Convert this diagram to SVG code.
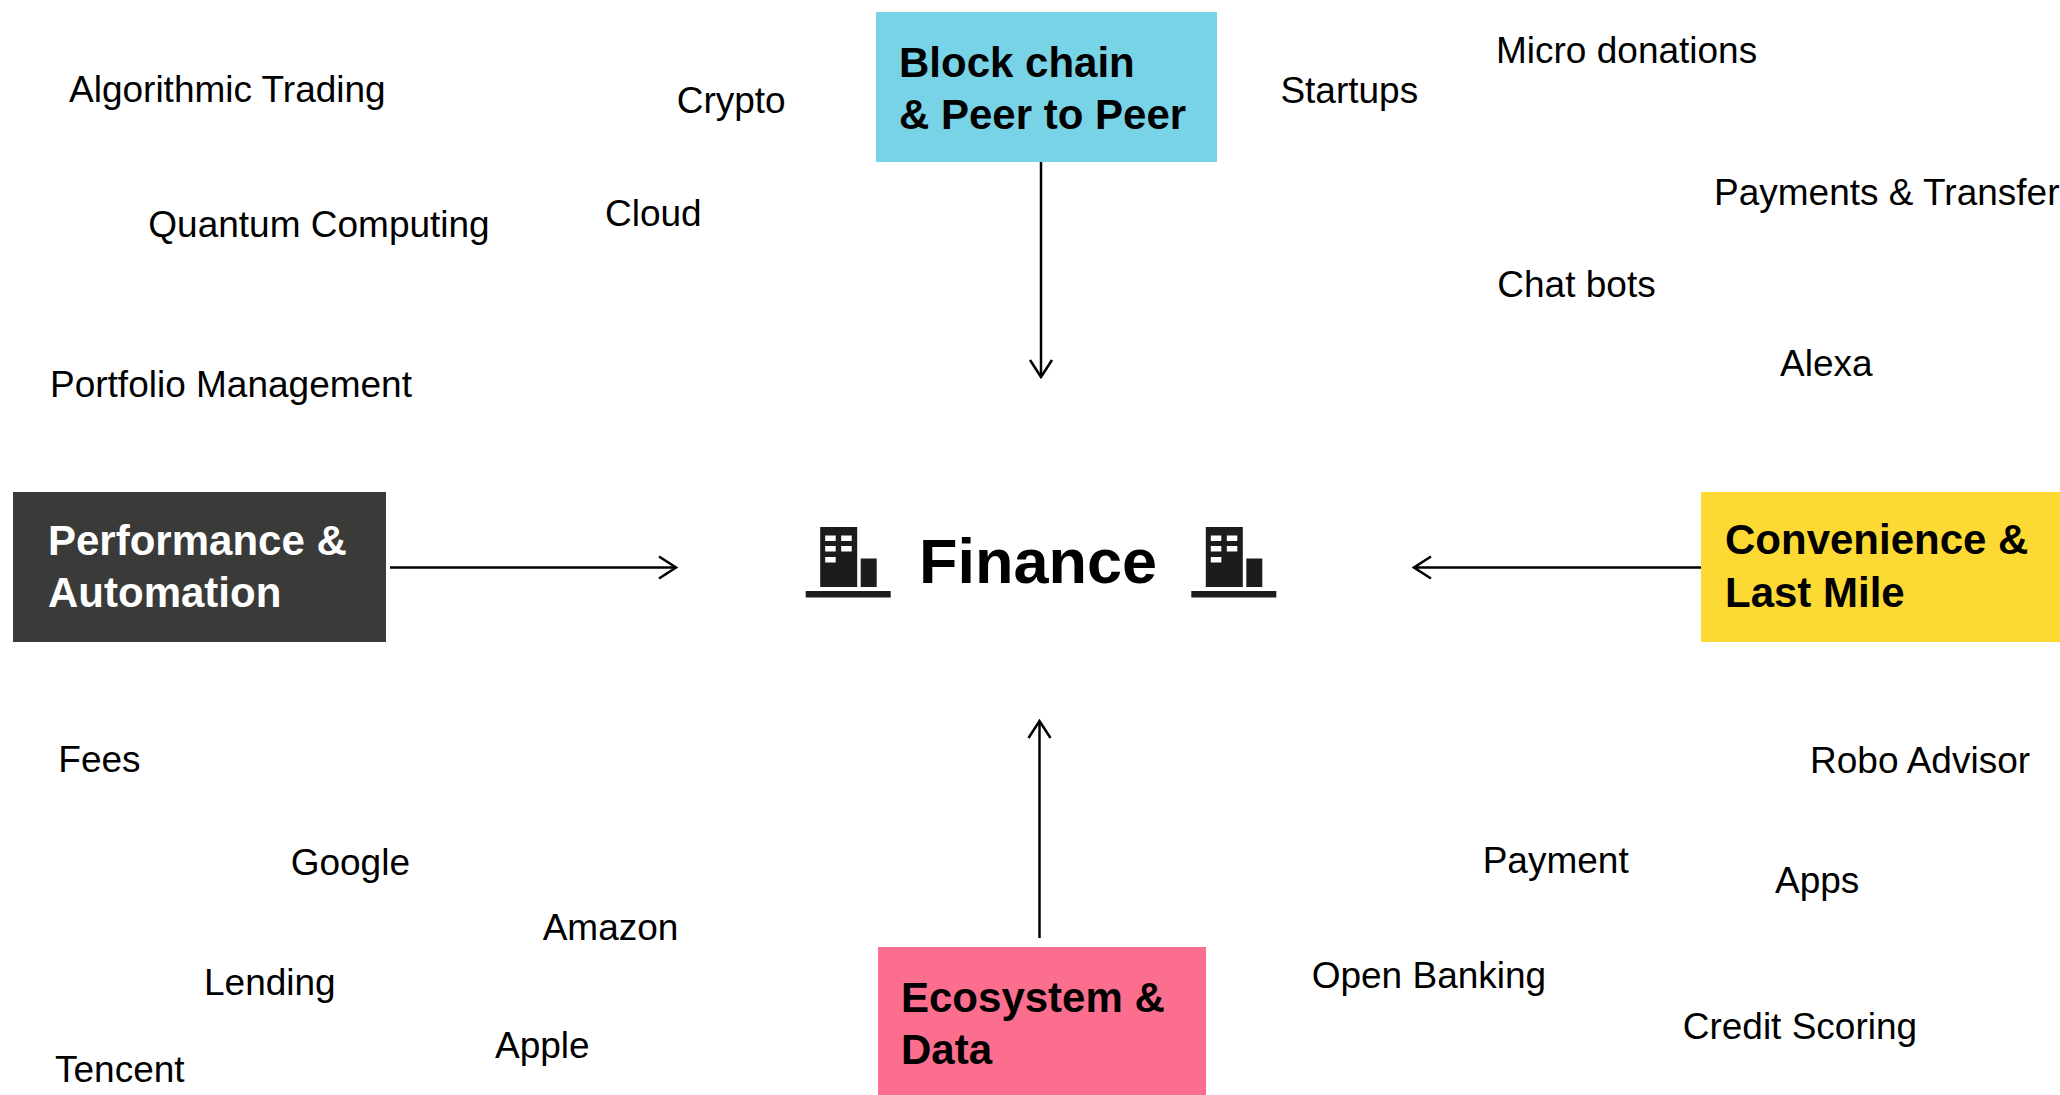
<svg xmlns="http://www.w3.org/2000/svg" width="2060" height="1095" viewBox="0 0 2060 1095">
<style>
.lbl{font-family:"Liberation Sans",Arial,sans-serif;font-size:37px;fill:#000}
.hd{font-family:"Liberation Sans",Arial,sans-serif;font-size:42px;font-weight:bold;fill:#000}
.hdw{fill:#fff}
.conn{stroke:#000;stroke-width:2.5;fill:none;marker-end:url(#arr)}
.ico{fill:#1d1b1c}
.win{fill:#fff}
</style>
<defs>
<marker id="arr" markerUnits="userSpaceOnUse" viewBox="-20 -13 22 26" markerWidth="22" markerHeight="26" refX="0" refY="0" orient="auto">
<path d="M-17,-11 L0,0 L-17,11" fill="none" stroke="#000" stroke-width="2.5"/>
</marker>
<g id="building">
<rect class="ico" x="0" y="64" width="85" height="6.5"/>
<rect class="ico" x="14.5" y="0" width="37" height="60"/>
<rect class="ico" x="55" y="31.5" width="16" height="28.5"/>
<rect class="win" x="19.5" y="8.5" width="10.5" height="5.5"/>
<rect class="win" x="35.5" y="8.5" width="10.5" height="5.5"/>
<rect class="win" x="19.5" y="19" width="10.5" height="5.5"/>
<rect class="win" x="35.5" y="19" width="10.5" height="5.5"/>
<rect class="win" x="19.5" y="30" width="10.5" height="5.5"/>
</g>
</defs>
<rect width="2060" height="1095" fill="#fff"/>

<g id="finance">
<use href="#building" x="805.7" y="527"/>
<use href="#building" x="1191.3" y="527"/>
<text x="919" y="583" font-family="Liberation Sans,Arial,sans-serif" font-size="63" font-weight="bold" fill="#000">Finance</text>
</g>

<g id="blockchain">
<rect x="876" y="12" width="341" height="150" fill="#78d3e6"/>
<text class="hd" x="899" y="77">Block chain</text>
<text class="hd" x="899" y="129">&amp; Peer to Peer</text>
</g>

<g id="performance">
<rect x="13" y="492" width="373" height="150" fill="#3a3b38"/>
<text class="hd hdw" x="48" y="555">Performance &amp;</text>
<text class="hd hdw" x="48" y="607">Automation</text>
</g>

<g id="convenience">
<rect x="1701" y="492" width="359" height="150" fill="#fdda33"/>
<text class="hd" x="1725" y="554">Convenience &amp;</text>
<text class="hd" x="1725" y="607">Last Mile</text>
</g>

<g id="ecosystem">
<rect x="878" y="947" width="328" height="148" fill="#fc6e8e"/>
<text class="hd" x="901" y="1012">Ecosystem &amp;</text>
<text class="hd" x="901" y="1064">Data</text>
</g>

<g id="connectors">
<path class="conn" d="M1041,162 L1041,377"/>
<path class="conn" d="M390,567.5 L676,567.5"/>
<path class="conn" d="M1701,567.5 L1414,567.5"/>
<path class="conn" d="M1039.5,938 L1039.5,721"/>
</g>

<g id="labels">
<text class="lbl" x="69" y="101.7">Algorithmic Trading</text>
<text class="lbl" x="676.7" y="113.3">Crypto</text>
<text class="lbl" x="148.3" y="236.7">Quantum Computing</text>
<text class="lbl" x="605" y="226">Cloud</text>
<text class="lbl" x="50" y="397">Portfolio Management</text>
<text class="lbl" x="1280.4" y="103.3">Startups</text>
<text class="lbl" x="1496" y="63.3">Micro donations</text>
<text class="lbl" x="1714" y="205">Payments &amp; Transfer</text>
<text class="lbl" x="1497.3" y="296.7">Chat bots</text>
<text class="lbl" x="1780" y="375.7">Alexa</text>
<text class="lbl" x="58.3" y="771.7">Fees</text>
<text class="lbl" x="290.7" y="875">Google</text>
<text class="lbl" x="542.7" y="940">Amazon</text>
<text class="lbl" x="204" y="995.3">Lending</text>
<text class="lbl" x="495" y="1058.3">Apple</text>
<text class="lbl" x="55" y="1081.7">Tencent</text>
<text class="lbl" x="1810" y="773.3">Robo Advisor</text>
<text class="lbl" x="1482.7" y="872.7">Payment</text>
<text class="lbl" x="1775" y="893.3">Apps</text>
<text class="lbl" x="1311.7" y="988.3">Open Banking</text>
<text class="lbl" x="1682.7" y="1039.3">Credit Scoring</text>
</g>
</svg>
